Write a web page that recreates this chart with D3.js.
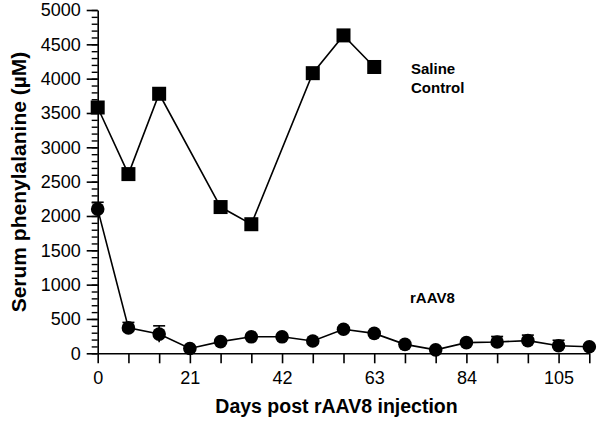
<!DOCTYPE html>
<html>
<head>
<meta charset="utf-8">
<script src="https://cdn.jsdelivr.net/npm/d3@7"></script>
<style>
  body { margin: 0; background: #fff; }
  text { font-family: Arial, "Liberation Sans", sans-serif; }
</style>
</head>
<body>
<div id="chart"></div>
<script>
// Saline control group (squares)
const salineDays = [0, 7, 14, 28, 35, 49, 56, 63];
const salinePhe = [3580, 2610, 3780, 2130, 1880, 4080, 4630, 4170];

// rAAV8 group (circles) with SEM
const aavDays = [0, 7, 14, 21, 28, 35, 42, 49, 56, 63, 70, 77, 84, 91, 98, 105, 112];
const aavPhe = [2100, 370, 280, 70, 170, 240, 240, 180, 350, 290, 130, 50, 155, 165, 185, 110, 95];
const aavErr = [100, 80, 120, 20, 20, 20, 20, 20, 20, 20, 20, 20, 20, 80, 80, 80, 20];

const xTicks = d3.range(0, 113, 7);
const yTicks = d3.range(0, 5001, 500);
const yMinor = d3.range(0, 5001, 100);

const W = 600, H = 422;

const svg = d3.select("#chart").append("svg")
    .attr("width", W)
    .attr("height", H);

const x = d3.scaleLinear().domain([0, 112]).range([97.7, 589.3]);
const y = d3.scaleLinear().domain([0, 5000]).range([353.3, 10]);

// minor y ticks
svg.append("g")
    .attr("class", "minor")
    .attr("transform", `translate(${x(0)},0)`)
    .call(d3.axisLeft(y).tickValues(yMinor).tickSize(6).tickFormat(""))
    .call(g => g.select(".domain").remove());

// major y ticks
svg.append("g")
    .attr("transform", `translate(${x(0)},0)`)
    .call(d3.axisLeft(y).tickValues(yTicks).tickSize(11).tickSizeOuter(0).tickPadding(6)
        .tickFormat(d3.format("d")));

// x axis
svg.append("g")
    .attr("transform", `translate(0,${y(0)})`)
    .call(d3.axisBottom(x).tickValues(xTicks).tickSize(10).tickSizeOuter(0).tickPadding(8)
        .tickFormat(d => d % 21 === 0 ? d : ""));

svg.selectAll(".domain, .tick line")
    .attr("stroke", "#000")
    .attr("stroke-width", 1.6);
svg.selectAll(".minor .tick line")
    .attr("stroke-width", 1.4);
svg.selectAll(".tick text")
    .attr("fill", "#000")
    .style("font-size", "18px");

// saline line + squares
const line = d3.line().x(d => x(d[0])).y(d => y(d[1]));

svg.append("path")
    .datum(salineDays.map((d, i) => [d, salinePhe[i]]))
    .attr("fill", "none")
    .attr("stroke", "#000")
    .attr("stroke-width", 1.6)
    .attr("d", line);

svg.selectAll(".sq")
    .data(salineDays.map((d, i) => [d, salinePhe[i]]))
    .enter().append("rect")
    .attr("x", d => x(d[0]) - 7)
    .attr("y", d => y(d[1]) - 7)
    .attr("width", 14)
    .attr("height", 14)
    .attr("fill", "#000");

// rAAV8 line, error bars, circles
const aav = aavDays.map((d, i) => ({ day: d, v: aavPhe[i], e: aavErr[i] }));

svg.append("path")
    .datum(aav.map(d => [d.day, d.v]))
    .attr("fill", "none")
    .attr("stroke", "#000")
    .attr("stroke-width", 1.6)
    .attr("d", line);

const eb = svg.selectAll(".eb")
    .data(aav)
    .enter().append("g");
eb.append("line")
    .attr("x1", d => x(d.day)).attr("x2", d => x(d.day))
    .attr("y1", d => y(d.v + d.e)).attr("y2", d => y(Math.max(0, d.v - d.e)))
    .attr("stroke", "#000").attr("stroke-width", 1.6);
eb.append("line")
    .attr("x1", d => x(d.day) - 6).attr("x2", d => x(d.day) + 6)
    .attr("y1", d => y(d.v + d.e)).attr("y2", d => y(d.v + d.e))
    .attr("stroke", "#000").attr("stroke-width", 1.6);

svg.selectAll(".dot")
    .data(aav)
    .enter().append("circle")
    .attr("cx", d => x(d.day))
    .attr("cy", d => y(d.v))
    .attr("r", 6.8)
    .attr("fill", "#000");

// group labels
svg.append("text")
    .attr("x", 411).attr("y", 74)
    .style("font-size", "15px").style("font-weight", "bold")
    .text("Saline");
svg.append("text")
    .attr("x", 411).attr("y", 92.5)
    .style("font-size", "15px").style("font-weight", "bold")
    .text("Control");
svg.append("text")
    .attr("x", 410).attr("y", 303)
    .style("font-size", "15px").style("font-weight", "bold")
    .text("rAAV8");

// axis titles
svg.append("text")
    .attr("x", (x(0) + x(112)) / 2 - 7)
    .attr("y", 413)
    .attr("text-anchor", "middle")
    .style("font-size", "19.5px").style("font-weight", "bold")
    .text("Days post rAAV8 injection");

svg.append("text")
    .attr("transform", "translate(26,182) rotate(-90)")
    .attr("text-anchor", "middle")
    .style("font-size", "21px").style("font-weight", "bold")
    .text("Serum phenylalanine (µM)");
</script>
</body>
</html>
